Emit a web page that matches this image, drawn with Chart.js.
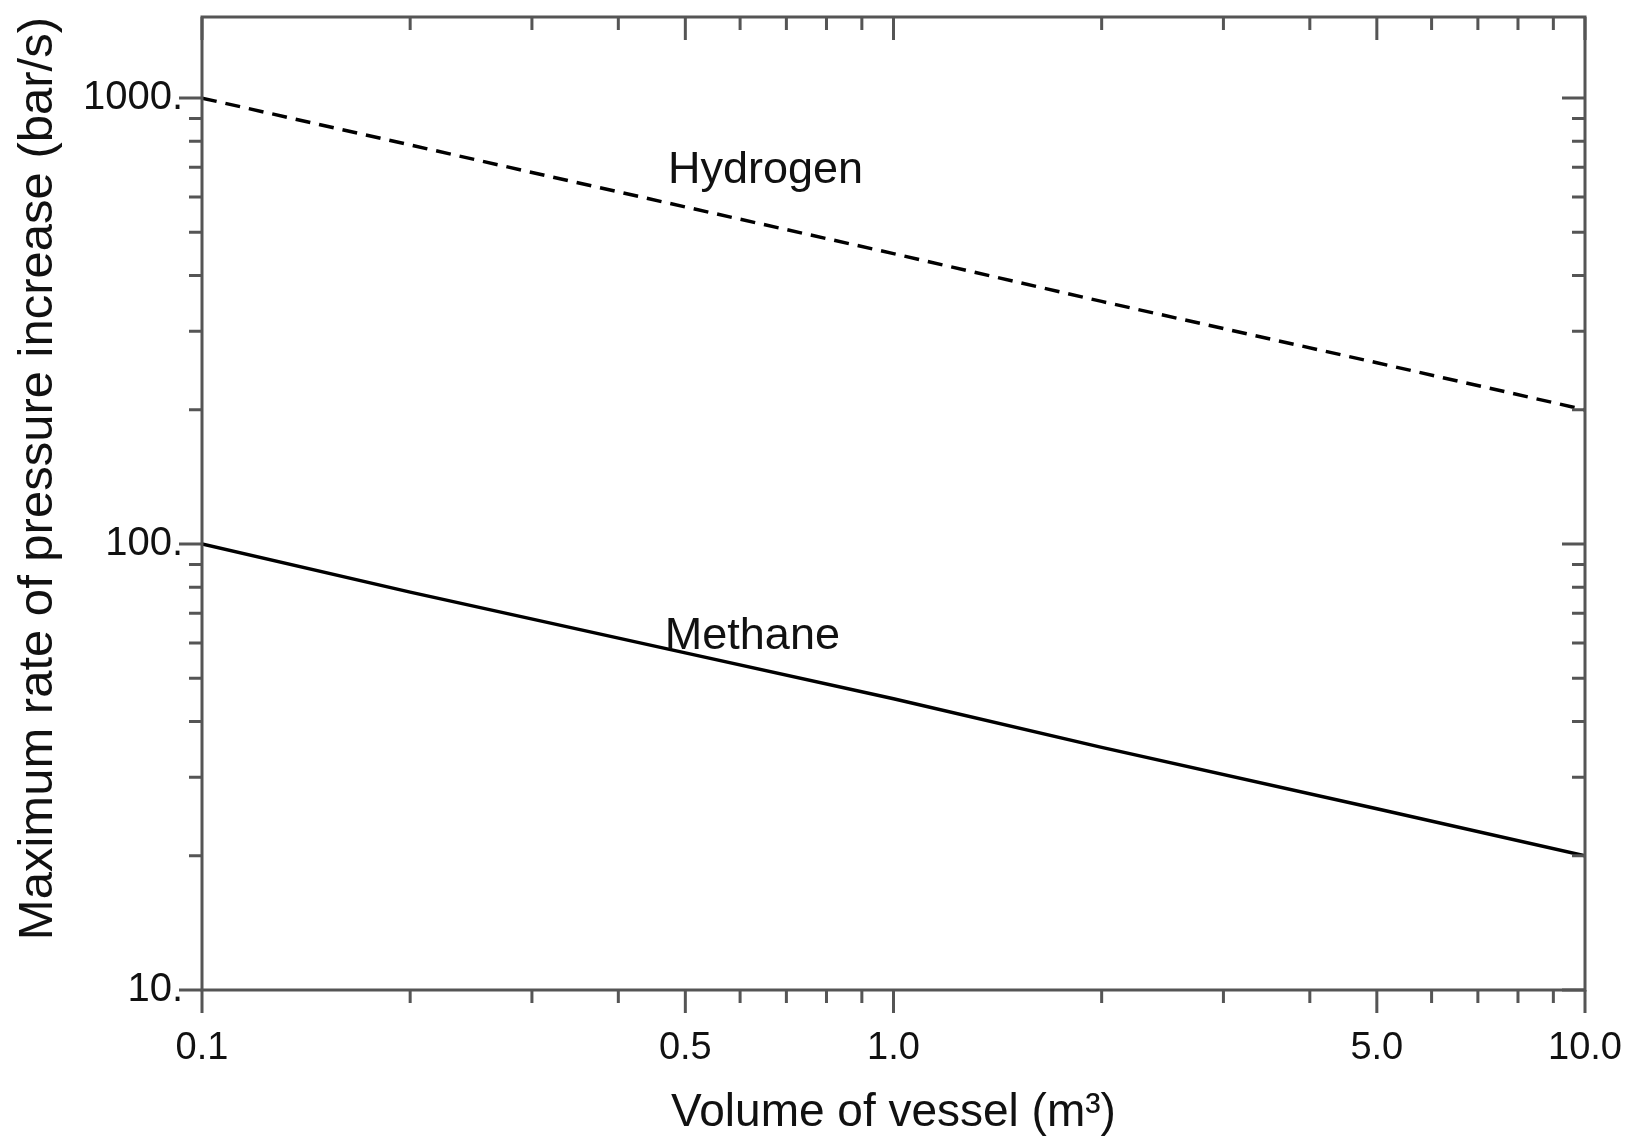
<!DOCTYPE html>
<html>
<head>
<meta charset="utf-8">
<script src="https://cdn.jsdelivr.net/npm/chart.js@4.4.1/dist/chart.umd.min.js"></script>
<style>
  html, body { margin: 0; padding: 0; background: #ffffff; }
  #wrap { width: 1644px; height: 1141px; }
</style>
</head>
<body>
<div id="wrap"><canvas id="c" width="1644" height="1141"></canvas></div>
<script>
// Vessel volume (m^3) and maximum rate of pressure rise (bar/s)
const volumes  = [0.1, 0.2, 0.5, 1.0, 2.0, 5.0, 10.0];
const hydrogen = [1000, 785, 570, 448, 350, 255, 200];
const methane  = [100, 78, 57, 45, 35, 25.5, 20];

// Axis ticks
const xMajorTicks = [0.1, 0.5, 1.0, 5.0, 10.0];
const xTickLabels = ['0.1', '0.5', '1.0', '5.0', '10.0'];
const xMinorTicks = [0.2, 0.3, 0.4, 0.6, 0.7, 0.8, 0.9, 2, 3, 4, 6, 7, 8, 9];
const yMajorTicks = [10, 100, 1000];
const yTickLabels = ['10.', '100.', '1000.'];
const yMinorTicks = [20, 30, 40, 50, 60, 70, 80, 90, 200, 300, 400, 500, 600, 700, 800, 900];

const FONT = '"Liberation Sans", Arial, Helvetica, sans-serif';
const INK = '#111111';
const FRAME = '#555555';

function labelFor(value, majors, labels) {
  const i = majors.findIndex(m => Math.abs(m - value) < 1e-9 * Math.max(1, m));
  return i >= 0 ? labels[i] : null;
}

// Frame on all four sides plus tick marks; the mirrored top/right ticks point inward
const frameAndTicks = {
  id: 'frameAndTicks',
  afterDatasetsDraw(chart) {
    const { ctx, chartArea: a, scales: { x, y } } = chart;
    const major = 23, minor = 13;
    ctx.save();
    ctx.strokeStyle = FRAME;
    ctx.lineWidth = 3;
    ctx.lineCap = 'butt';
    ctx.strokeRect(a.left, a.top, a.right - a.left, a.bottom - a.top);
    ctx.beginPath();
    const xt = xMajorTicks.map(v => [v, major]).concat(xMinorTicks.map(v => [v, minor]));
    xt.forEach(([v, len]) => {
      const px = x.getPixelForValue(v);
      ctx.moveTo(px, a.bottom); ctx.lineTo(px, a.bottom + len);
      ctx.moveTo(px, a.top);    ctx.lineTo(px, a.top + len);
    });
    const yt = yMajorTicks.map(v => [v, major]).concat(yMinorTicks.map(v => [v, minor]));
    yt.forEach(([v, len]) => {
      const py = y.getPixelForValue(v);
      ctx.moveTo(a.left - len, py);  ctx.lineTo(a.left, py);
      ctx.moveTo(a.right - len, py); ctx.lineTo(a.right, py);
    });
    ctx.stroke();
    ctx.restore();
  }
};

// Series names written beside their curves
const curveNames = {
  id: 'curveNames',
  afterDatasetsDraw(chart, args, opts) {
    const { ctx, scales: { x, y } } = chart;
    ctx.save();
    ctx.fillStyle = INK;
    ctx.font = opts.font;
    ctx.textAlign = 'left';
    ctx.textBaseline = 'alphabetic';
    opts.items.forEach(it => {
      ctx.fillText(it.text, x.getPixelForValue(it.at[0]), y.getPixelForValue(it.at[1]));
    });
    ctx.restore();
  }
};

new Chart(document.getElementById('c'), {
  type: 'line',
  data: {
    datasets: [
      {
        label: 'Hydrogen',
        data: volumes.map((v, i) => ({ x: v, y: hydrogen[i] })),
        borderColor: '#000000',
        borderWidth: 3.5,
        borderDash: [15, 9],
        pointRadius: 0,
        fill: false,
        tension: 0
      },
      {
        label: 'Methane',
        data: volumes.map((v, i) => ({ x: v, y: methane[i] })),
        borderColor: '#000000',
        borderWidth: 3.5,
        pointRadius: 0,
        fill: false,
        tension: 0
      }
    ]
  },
  options: {
    responsive: false,
    animation: false,
    devicePixelRatio: 1,
    layout: { padding: { left: 0, right: 59, top: 17, bottom: 0 } },
    plugins: {
      legend: { display: false },
      tooltip: { enabled: false },
      curveNames: {
        font: '45px ' + FONT,
        items: [
          { text: 'Hydrogen', at: [0.472, 645] },
          { text: 'Methane',  at: [0.467, 58.2] }
        ]
      }
    },
    scales: {
      x: {
        type: 'logarithmic',
        position: 'bottom',
        min: 0.1,
        max: 10,
        afterBuildTicks(scale) {
          scale.ticks = xMajorTicks.concat(xMinorTicks).sort((a, b) => a - b).map(v => ({ value: v }));
        },
        afterFit(scale) {
          scale.height = 151;
          scale.paddingLeft = 0;
          scale.paddingRight = 0;
        },
        grid: { display: true, drawOnChartArea: false, drawTicks: false },
        border: { display: false },
        ticks: {
          autoSkip: false,
          maxRotation: 0,
          padding: 36,
          color: INK,
          font: { family: FONT, size: 38 },
          callback: v => labelFor(v, xMajorTicks, xTickLabels)
        },
        title: {
          display: true,
          text: 'Volume of vessel (m³)',
          color: INK,
          font: { family: FONT, size: 46 },
          padding: { top: 0, bottom: 0 }
        }
      },
      y: {
        type: 'logarithmic',
        position: 'left',
        min: 10,
        max: 1520,
        afterBuildTicks(scale) {
          scale.ticks = yMajorTicks.concat(yMinorTicks).sort((a, b) => a - b).map(v => ({ value: v }));
        },
        afterFit(scale) {
          scale.width = 202;
          scale.paddingTop = 0;
          scale.paddingBottom = 0;
        },
        grid: { display: true, drawOnChartArea: false, drawTicks: false },
        border: { display: false },
        ticks: {
          autoSkip: false,
          padding: 19,
          color: INK,
          font: { family: FONT, size: 40 },
          callback: v => labelFor(v, yMajorTicks, yTickLabels)
        },
        title: {
          display: true,
          align: 'end',
          text: 'Maximum rate of pressure increase (bar/s)',
          color: INK,
          font: { family: FONT, size: 49 },
          padding: { top: 9, bottom: 0 }
        }
      }
    }
  },
  plugins: [frameAndTicks, curveNames]
});
</script>
</body>
</html>
